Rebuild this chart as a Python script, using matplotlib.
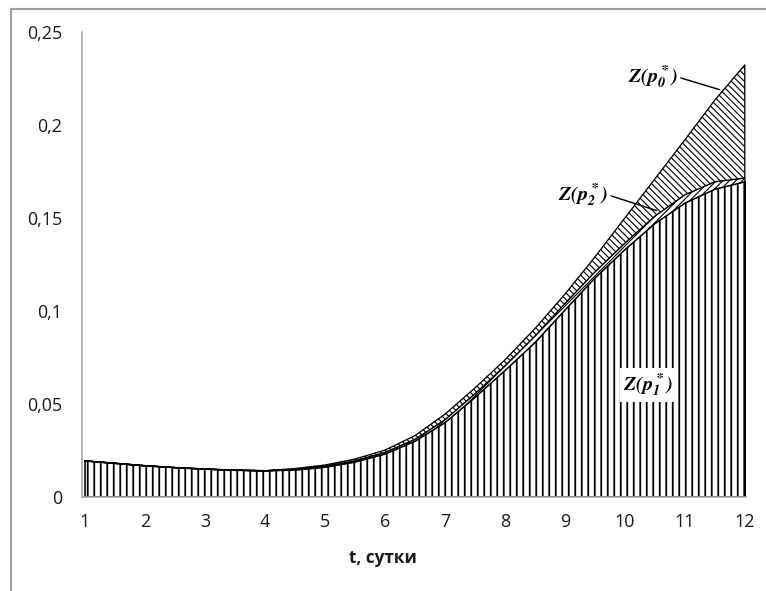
import numpy as np
import matplotlib
matplotlib.use('Agg')
from matplotlib import pyplot as plt
from matplotlib.lines import Line2D
from matplotlib.ticker import FuncFormatter

# время, сутки
t = [1, 1.5, 2, 2.5, 3, 3.5, 4, 4.5, 5, 5.5, 6, 6.5,
     7, 7.5, 8, 8.5, 9, 9.5, 10, 10.5, 11, 11.5, 12]

# Z(p1*) - нижняя кривая
z_p1 = [0.0194, 0.0181, 0.0168, 0.0158, 0.0150, 0.0144, 0.0141, 0.0145,
        0.0160, 0.0188, 0.0231, 0.0300, 0.0400, 0.0535, 0.0680, 0.0830,
        0.1005, 0.1177, 0.1330, 0.1470, 0.1580, 0.1655, 0.1695]
# Z(p2*) - средняя кривая
z_p2 = [0.0194, 0.0181, 0.0168, 0.0158, 0.0150, 0.0144, 0.0141, 0.0148,
        0.0165, 0.0195, 0.0240, 0.0310, 0.0415, 0.0555, 0.0705, 0.0865,
        0.1040, 0.1210, 0.1365, 0.1510, 0.1625, 0.1695, 0.1715]
# Z(p0*) - верхняя кривая
z_p0 = [0.0194, 0.0181, 0.0168, 0.0158, 0.0150, 0.0144, 0.0141, 0.0153,
        0.0172, 0.0204, 0.0252, 0.0330, 0.0445, 0.0586, 0.0737, 0.0905,
        0.1090, 0.1290, 0.1500, 0.1710, 0.1920, 0.2134, 0.2323]

x_ticks = list(range(1, 13))
y_ticks = [0, 0.05, 0.1, 0.15, 0.2, 0.25]

DPI = 117
BSL = chr(92)  # обратная косая черта для штриховки
plt.rcParams['font.family'] = ['Open Sans', 'DejaVu Sans']
plt.rcParams['mathtext.fontset'] = 'stix'
plt.rcParams['hatch.linewidth'] = 1.0

fig = plt.figure(figsize=(766 / DPI, 591 / DPI), dpi=DPI)
ax = fig.add_axes([82 / 766, 94 / 591, 664 / 766, 465 / 591])

tt = np.array(t)
with plt.rc_context({'hatch.linewidth': 1.1}):
    ax.fill_between(tt, 0, z_p1, facecolor='white', edgecolor='black',
                    hatch='|||', linewidth=1.0, zorder=2)
with plt.rc_context({'hatch.linewidth': 0.7}):
    ax.fill_between(tt, z_p1, z_p2, facecolor='white', edgecolor='black',
                    hatch='/' * 6, linewidth=0.8, zorder=2)
    ax.fill_between(tt, z_p2, z_p0, facecolor='white', edgecolor='black',
                    hatch=BSL * 6, linewidth=0.8, zorder=2)
ax.plot([12, 12], [0, z_p1[-1]], color='black', linewidth=1.6, zorder=3)

ax.set_xlim(0.95, 12.02)
ax.set_ylim(0, 0.25)
ax.set_xticks(x_ticks)
ax.set_yticks(y_ticks)
ax.yaxis.set_major_formatter(FuncFormatter(lambda v, p: f'{v:g}'.replace('.', ',')))
ax.tick_params(length=0, labelsize=11, labelcolor='#1a1a1a')
ax.tick_params(axis='y', pad=12)
ax.tick_params(axis='x', pad=10)

for side in ['top', 'right']:
    ax.spines[side].set_visible(False)
for side in ['left', 'bottom']:
    ax.spines[side].set_color('#a6a6a6')
    ax.spines[side].set_linewidth(1.0)
ax.spines['bottom'].set_zorder(4)

ax.set_xlabel('t, сутки', fontsize=10.5, fontweight='bold', color='#1a1a1a')
ax.xaxis.set_label_coords(0.453, -0.112)

lbl = dict(fontsize=12.5, va='center')
ax.annotate(r'$\mathbfit{Z(p_0^*)}$', xy=(11.58, 0.219), xytext=(10.88, 0.2258), ha='right',
            arrowprops=dict(arrowstyle='-', color='black', lw=0.9, shrinkA=0, shrinkB=0,
                            relpos=(1, 0.5)),
            zorder=5, **lbl)
ax.annotate(r'$\mathbfit{Z(p_2^*)}$', xy=(10.53, 0.154), xytext=(9.72, 0.1624), ha='right',
            arrowprops=dict(arrowstyle='-', color='black', lw=0.9, shrinkA=0, shrinkB=0,
                            relpos=(1, 0.5)),
            zorder=5, **lbl)
ax.text(10.38, 0.060, r'$\mathbfit{Z(p_1^*)}$', zorder=5, ha='center',
        bbox=dict(facecolor='white', edgecolor='none', pad=2), **lbl)

# рамка области диаграммы
fig.add_artist(Line2D([11 / 766, 1], [1 - 9 / 591, 1 - 9 / 591], color='#a0a0a0', lw=1.3))
fig.add_artist(Line2D([11 / 766, 11 / 766], [0, 1 - 9 / 591], color='#a0a0a0', lw=1.3))

fig.savefig('out.png', dpi=DPI)
